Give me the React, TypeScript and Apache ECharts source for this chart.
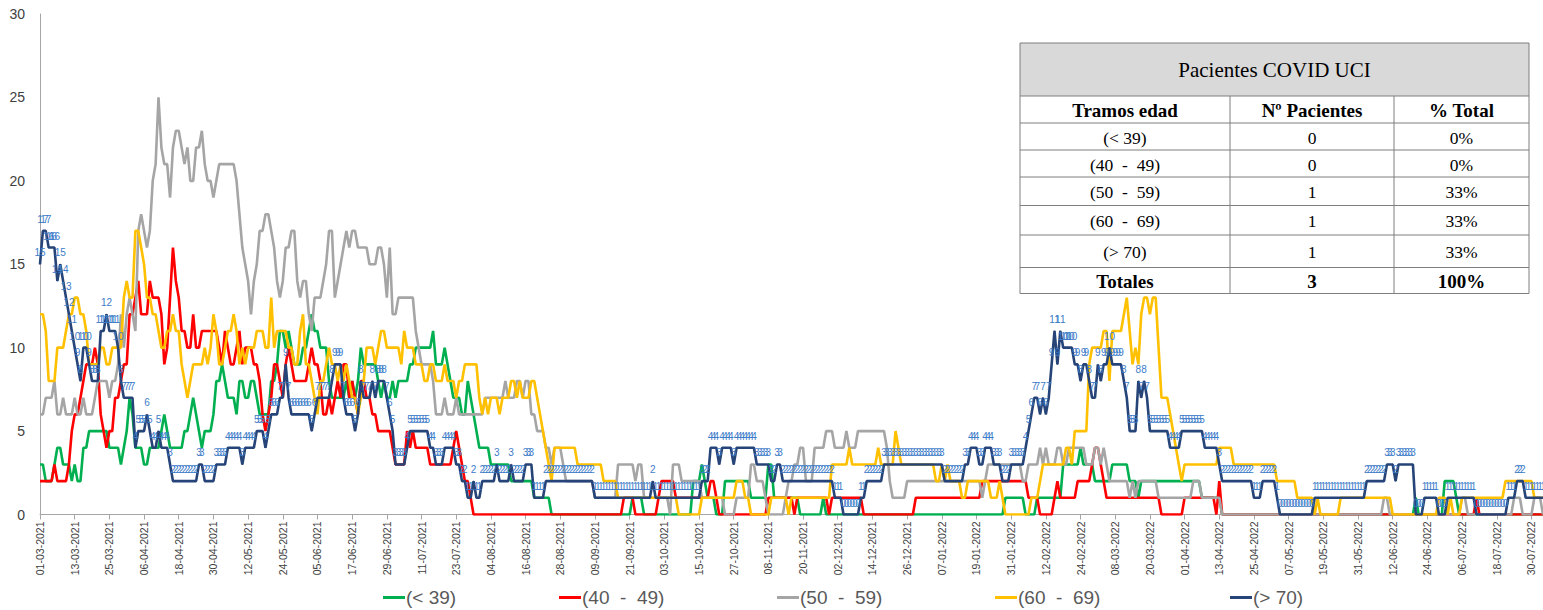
import React, { useEffect, useRef } from "react";
import * as echarts from "echarts";

// ---------- data ----------
const startDate = "2021-03-01";
const dayCount = 521;
const labelStep = 12;

const groupNames = ["(< 39)", "(40  -  49)", "(50  -  59)", "(60  -  69)", "(> 70)"];
const groupColors = ["#00B050", "#FF0000", "#A5A5A5", "#FFC000", "#264478"];

// [first day index, value]; each value holds until the next step (daily counts)
const stepsUnder39 = [[0,3],[2,2],[5,3],[6,4],[8,3],[11,2],[12,3],[13,2],[15,4],[17,5],[24,4],[28,3],[29,4],[30,5],[31,7],[32,6],[33,4],[36,3],[38,4],[42,5],[43,6],[44,5],[45,4],[50,5],[52,6],[53,7],[54,6],[55,5],[56,4],[57,5],[60,6],[61,8],[63,9],[64,8],[65,7],[68,6],[69,8],[71,7],[73,8],[75,7],[76,6],[80,8],[82,9],[83,11],[85,10],[86,11],[87,10],[88,9],[91,10],[93,11],[94,12],[95,11],[97,10],[100,8],[101,7],[106,8],[107,7],[108,8],[109,7],[110,8],[111,10],[112,9],[117,8],[118,7],[119,8],[120,7],[122,8],[123,7],[124,8],[128,9],[130,10],[136,11],[137,9],[140,10],[141,9],[142,8],[143,7],[146,6],[148,8],[149,7],[150,6],[151,5],[152,4],[156,3],[163,2],[171,1],[177,0],[205,1],[209,0],[226,2],[229,3],[230,2],[231,1],[234,0],[237,2],[246,1],[252,3],[254,1],[263,0],[271,1],[272,0],[334,1],[341,0],[345,1],[354,3],[360,4],[361,3],[365,2],[371,3],[377,2],[380,1],[381,2],[402,1],[409,0],[476,1],[477,0],[486,2],[490,1],[491,0]];
const steps40to49 = [[0,2],[5,3],[6,2],[10,3],[11,5],[12,6],[14,7],[15,8],[16,9],[19,10],[20,9],[21,6],[22,5],[23,4],[24,5],[26,7],[28,8],[29,9],[31,12],[33,13],[34,14],[35,12],[38,14],[39,13],[42,12],[43,9],[44,10],[45,13],[46,16],[47,14],[48,13],[49,11],[51,10],[53,12],[54,10],[56,11],[62,10],[63,9],[64,11],[65,10],[66,9],[68,10],[69,11],[70,9],[71,10],[74,9],[76,8],[77,6],[78,5],[79,6],[80,7],[81,9],[83,8],[84,7],[85,9],[86,10],[87,9],[88,8],[93,9],[94,10],[95,9],[97,8],[98,6],[100,7],[101,6],[102,7],[103,8],[104,7],[105,9],[107,7],[108,8],[109,7],[110,6],[111,8],[113,7],[115,6],[117,5],[122,4],[123,3],[127,5],[128,4],[129,5],[130,4],[135,3],[143,4],[144,5],[145,4],[146,3],[147,2],[149,1],[150,0],[202,1],[206,0],[214,1],[215,2],[220,1],[232,2],[234,1],[235,0],[252,1],[261,0],[262,1],[273,0],[274,1],[285,0],[303,1],[326,2],[342,1],[346,0],[351,1],[352,2],[353,1],[359,2],[364,3],[365,4],[367,3],[368,2],[369,1],[388,0],[396,1],[407,0],[408,2],[409,0],[497,1],[498,0]];
const steps50to59 = [[0,6],[2,7],[5,8],[6,6],[8,7],[9,6],[12,7],[13,6],[15,7],[16,6],[19,7],[20,8],[24,7],[25,8],[27,9],[28,12],[29,10],[30,12],[31,13],[32,12],[33,11],[34,17],[35,18],[36,17],[37,16],[38,17],[39,20],[40,21],[41,25],[42,22],[43,21],[45,19],[46,22],[47,23],[49,22],[50,21],[51,22],[52,20],[54,22],[56,23],[57,21],[58,20],[60,19],[61,20],[62,21],[68,20],[69,18],[70,16],[71,15],[72,14],[73,12],[74,14],[75,15],[76,17],[78,18],[80,17],[81,16],[82,14],[83,13],[84,14],[85,16],[87,17],[89,14],[90,13],[91,14],[93,12],[94,11],[95,13],[98,14],[99,15],[100,17],[102,13],[103,14],[104,15],[105,16],[106,17],[107,16],[108,17],[110,16],[114,15],[117,16],[119,15],[120,13],[121,16],[122,12],[124,13],[130,11],[131,10],[132,9],[136,8],[137,6],[140,7],[141,6],[144,7],[145,6],[154,7],[161,8],[162,7],[165,8],[167,7],[168,8],[170,6],[172,5],[175,4],[177,3],[178,4],[181,3],[182,2],[192,1],[200,3],[206,2],[207,3],[209,1],[218,0],[219,3],[222,2],[229,1],[237,0],[241,1],[246,3],[248,2],[251,1],[252,0],[258,1],[259,2],[261,3],[263,4],[265,2],[268,4],[272,5],[275,4],[279,5],[280,4],[283,5],[293,4],[294,2],[295,1],[300,2],[326,1],[327,2],[328,3],[340,2],[342,3],[346,4],[347,3],[348,4],[349,3],[352,4],[354,3],[356,4],[362,3],[365,4],[367,3],[368,4],[369,3],[370,2],[377,1],[378,2],[379,1],[380,2],[387,1],[399,2],[402,1],[409,0],[465,1],[467,0],[492,1],[494,0],[510,1],[513,0],[517,1],[520,0]];
const steps60to69 = [[0,12],[2,11],[3,8],[6,10],[9,11],[10,12],[12,13],[14,12],[16,11],[17,9],[21,10],[23,9],[25,10],[29,13],[30,14],[31,13],[33,17],[35,16],[36,15],[37,13],[39,12],[41,11],[42,10],[44,11],[46,12],[47,11],[49,9],[50,8],[51,7],[52,8],[53,9],[57,10],[58,9],[59,10],[60,12],[61,11],[62,9],[64,10],[65,11],[67,12],[68,11],[69,9],[70,10],[71,9],[72,10],[75,11],[78,10],[80,13],[81,10],[82,11],[86,10],[88,9],[90,11],[91,12],[92,9],[94,8],[95,7],[96,6],[97,8],[99,9],[100,10],[101,9],[103,8],[104,9],[105,8],[106,9],[107,8],[108,7],[110,6],[111,7],[112,8],[113,10],[116,9],[117,10],[118,11],[120,10],[125,9],[126,11],[127,10],[130,9],[133,8],[135,9],[137,8],[140,9],[141,8],[144,7],[145,8],[147,9],[152,7],[153,6],[154,7],[155,6],[156,7],[159,6],[160,7],[163,8],[165,7],[166,8],[167,7],[170,8],[172,7],[173,6],[174,5],[175,4],[176,3],[177,2],[178,4],[186,3],[195,2],[200,1],[221,0],[229,1],[241,2],[244,1],[246,0],[253,1],[259,0],[260,1],[274,3],[280,4],[281,3],[290,4],[291,3],[296,5],[297,4],[298,3],[310,2],[312,3],[313,2],[314,3],[315,2],[319,1],[321,2],[329,1],[332,2],[333,1],[334,0],[343,1],[346,2],[347,3],[355,4],[357,3],[358,5],[363,9],[364,10],[368,11],[370,8],[371,11],[375,12],[376,13],[377,11],[378,9],[379,10],[380,9],[381,12],[382,13],[384,12],[385,13],[387,10],[388,7],[391,6],[392,5],[393,4],[394,3],[395,2],[396,3],[408,4],[413,3],[428,2],[435,1],[441,0],[442,1],[443,0],[450,1],[468,0],[484,1],[487,0],[488,1],[489,0],[492,1],[507,2],[517,1]];
const stepsOver70 = [[0,15],[1,17],[3,16],[6,14],[7,15],[8,14],[9,13],[10,12],[11,11],[12,10],[13,9],[14,8],[15,10],[17,9],[18,8],[21,11],[23,12],[24,11],[27,10],[28,8],[29,7],[33,4],[34,5],[37,6],[38,5],[39,4],[41,5],[42,4],[45,3],[46,2],[55,3],[57,2],[61,3],[65,4],[70,3],[71,4],[75,5],[78,4],[79,5],[80,6],[83,7],[85,9],[86,7],[87,6],[94,5],[95,6],[96,7],[101,8],[102,9],[105,7],[106,6],[109,5],[110,6],[111,8],[112,7],[115,8],[116,7],[117,8],[120,7],[121,6],[122,5],[123,3],[127,4],[128,5],[135,4],[137,3],[140,4],[144,3],[146,2],[148,1],[150,2],[151,1],[153,2],[158,3],[159,2],[163,3],[164,2],[168,3],[171,1],[175,2],[192,1],[212,2],[213,1],[229,2],[232,4],[235,3],[236,4],[240,3],[241,4],[248,3],[253,2],[255,3],[257,2],[275,1],[278,0],[284,1],[286,2],[292,3],[313,2],[320,3],[322,4],[325,3],[327,4],[330,3],[333,2],[336,3],[341,4],[342,5],[343,6],[344,7],[346,6],[347,7],[348,6],[349,7],[350,9],[351,11],[352,9],[353,11],[354,10],[358,9],[360,8],[361,9],[363,8],[364,7],[366,9],[367,8],[368,9],[370,10],[371,9],[375,8],[376,7],[377,5],[380,8],[381,7],[382,8],[383,7],[384,5],[391,4],[395,5],[403,4],[408,3],[409,2],[420,1],[423,2],[428,1],[429,0],[441,1],[459,2],[466,3],[469,2],[470,3],[476,0],[479,1],[484,0],[487,1],[497,0],[508,1],[511,2],[514,1]];

const tableTitle = "Pacientes COVID UCI";
const tableHeader = ["Tramos edad", "Nº Pacientes", "% Total"];
const tablePatients = [0, 0, 1, 1, 1];
const tablePercent = ["0%", "0%", "33%", "33%", "33%"];
const tableTotals = ["Totales", "3", "100%"];

// ---------- helpers ----------
function expandSteps(steps: number[][], n: number): number[] {
  const out: number[] = [];
  for (let i = 0; i < steps.length; i++) {
    const start = steps[i][0];
    const end = i + 1 < steps.length ? steps[i + 1][0] : n;
    for (let d = start; d < end && d < n; d++) out.push(steps[i][1]);
  }
  return out;
}

function buildDates(start: string, n: number): string[] {
  const [y, m, d] = start.split("-").map(Number);
  const pad = (v: number) => (v < 10 ? "0" + v : "" + v);
  const out: string[] = [];
  for (let i = 0; i < n; i++) {
    const dt = new Date(Date.UTC(y, m - 1, d + i));
    out.push(pad(dt.getUTCDate()) + "-" + pad(dt.getUTCMonth() + 1) + "-" + dt.getUTCFullYear());
  }
  return out;
}

const SERIF = "'Liberation Serif', 'DejaVu Serif', serif";
const NARROW = "'Liberation Sans Narrow', 'Arial Narrow', 'Liberation Sans', sans-serif";
const SANS = "'Liberation Sans', Arial, sans-serif";

function buildTable() {
  const x0 = 1020, x1 = 1230, x2 = 1394, x3 = 1529;
  const rowsY = [43, 96, 123, 150, 177, 205.5, 235, 267.5, 293.5];
  const border = { stroke: "#7F7F7F", lineWidth: 1 };
  const els: any[] = [];
  els.push({ type: "rect", shape: { x: x0, y: rowsY[0], width: x3 - x0, height: rowsY[8] - rowsY[0] }, style: { fill: "#FFFFFF" } });
  els.push({ type: "rect", shape: { x: x0, y: rowsY[0], width: x3 - x0, height: rowsY[1] - rowsY[0] }, style: { fill: "#D9D9D9" } });
  rowsY.forEach((y) => els.push({ type: "line", shape: { x1: x0, y1: y, x2: x3, y2: y }, style: border }));
  els.push({ type: "line", shape: { x1: x0, y1: rowsY[0], x2: x0, y2: rowsY[8] }, style: border });
  els.push({ type: "line", shape: { x1: x3, y1: rowsY[0], x2: x3, y2: rowsY[8] }, style: border });
  [x1, x2].forEach((x) => els.push({ type: "line", shape: { x1: x, y1: rowsY[1], x2: x, y2: rowsY[8] }, style: border }));
  const cx = [(x0 + x1) / 2, (x1 + x2) / 2, (x2 + x3) / 2];
  const txt = (text: string, x: number, y: number, size: number, bold: boolean) => ({
    type: "text",
    style: { text, x, y, textAlign: "center", textVerticalAlign: "middle", fill: "#000000", fontSize: size, fontWeight: bold ? "bold" : "normal", fontFamily: SERIF },
  });
  els.push(txt(tableTitle, (x0 + x3) / 2, (rowsY[0] + rowsY[1]) / 2, 21, false));
  tableHeader.forEach((h, i) => els.push(txt(h, cx[i], (rowsY[1] + rowsY[2]) / 2 + 1, 19, true)));
  groupNames.forEach((g, r) => {
    const y = (rowsY[r + 2] + rowsY[r + 3]) / 2 + 1;
    els.push(txt(g, cx[0], y, 17.5, false));
    els.push(txt(String(tablePatients[r]), cx[1], y, 17.5, false));
    els.push(txt(tablePercent[r], cx[2], y, 17.5, false));
  });
  tableTotals.forEach((t, i) => els.push(txt(t, cx[i], (rowsY[7] + rowsY[8]) / 2 + 1, 19, true)));
  return { type: "group", z: 100, children: els };
}

export default function App() {
  const ref = useRef<HTMLDivElement>(null);
  useEffect(() => {
    if (!ref.current) return;
    const chart = echarts.init(ref.current, null, { renderer: "svg" });
    const dates = buildDates(startDate, dayCount);
    const allSteps = [stepsUnder39, steps40to49, steps50to59, steps60to69, stepsOver70];
    const series = allSteps.map((s, i) => {
      const isLast = i === allSteps.length - 1;
      return {
        name: groupNames[i],
        type: "line",
        data: expandSteps(s, dayCount),
        symbol: isLast ? "circle" : "none",
        symbolSize: 1,
        showSymbol: isLast,
        showAllSymbol: true,
        lineStyle: { width: 2.6, color: groupColors[i] },
        itemStyle: { color: groupColors[i] },
        z: 2 + i,
        label: isLast
          ? { show: true, position: "top", distance: 6, fontSize: 10, color: "#3D7CC9", fontFamily: NARROW }
          : { show: false },
        emphasis: { disabled: true },
      };
    });
    const legendLeft = [378, 554, 772, 990, 1225];
    const legends = groupNames.map((n, i) => ({
      data: [n],
      left: legendLeft[i],
      top: 583,
      icon: "rect",
      itemWidth: 22,
      itemHeight: 3,
      itemGap: 0,
      textStyle: { fontSize: 19, color: "#595959", fontFamily: SANS, padding: [0, 0, 0, -4] },
      selectedMode: false,
    }));
    chart.setOption({
      animation: false,
      backgroundColor: "#FFFFFF",
      grid: { left: 40, right: 0, top: 14, bottom: 95.5, containLabel: false },
      legend: legends,
      xAxis: {
        type: "category",
        boundaryGap: false,
        data: dates,
        axisLine: { lineStyle: { color: "#A6A6A6", width: 1 } },
        axisTick: { show: true, interval: labelStep - 1, length: 5, lineStyle: { color: "#A6A6A6" } },
        axisLabel: { interval: labelStep - 1, rotate: 90, fontSize: 10.5, color: "#404040", margin: 7, fontFamily: SANS },
        splitLine: { show: false },
      },
      yAxis: {
        type: "value",
        min: 0,
        max: 30,
        interval: 5,
        axisLine: { show: true, lineStyle: { color: "#A6A6A6", width: 1 } },
        axisTick: { show: false },
        splitLine: { show: false },
        axisLabel: { fontSize: 14, color: "#404040", margin: 15, fontFamily: SANS },
      },
      series,
      graphic: [buildTable()],
    });
    return () => chart.dispose();
  }, []);
  return <div ref={ref} style={{ position: "absolute", left: 0, top: 0, width: 1543, height: 610 }} />;
}
